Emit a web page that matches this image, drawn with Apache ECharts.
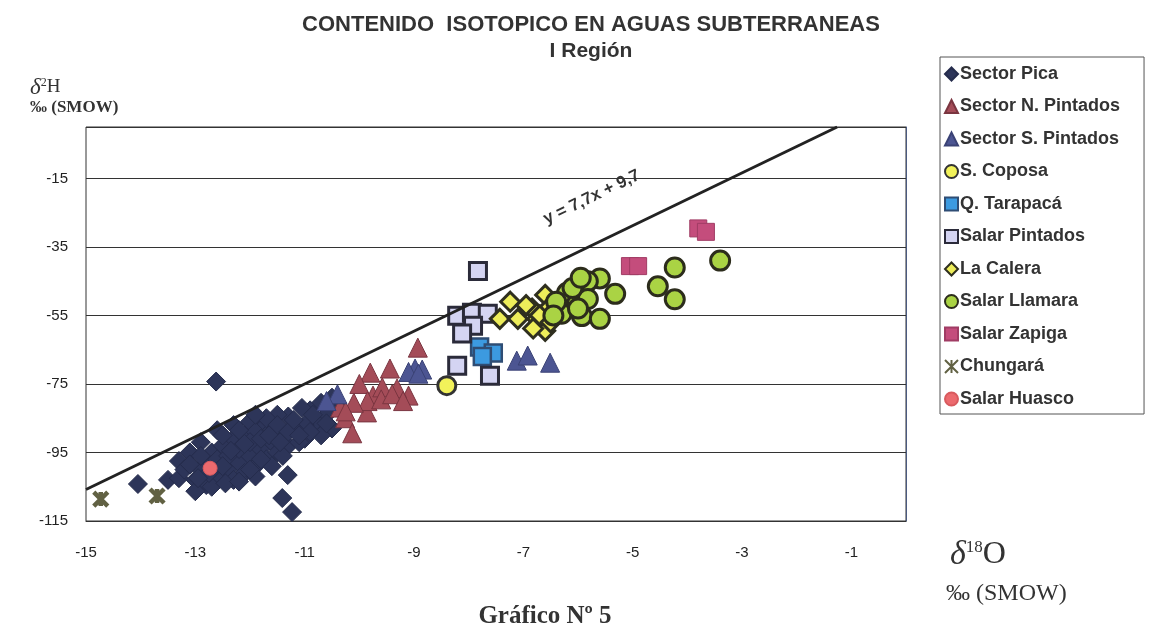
<!DOCTYPE html>
<html>
<head>
<meta charset="utf-8">
<script src="https://cdn.jsdelivr.net/npm/echarts@6/dist/echarts.min.js"></script>
<style>
html,body{margin:0;padding:0;background:#fff;}
#chart{width:1149px;height:630px;}
</style>
</head>
<body>
<div id="chart"></div>
<script>
// valores (d18O, d2H)
const sectorPica = [
  [-12.62,-74.3],[-14.05,-104.2],[-13.5,-103],[-13.3,-102.5],
  [-11.31,-101.6],[-11.41,-108.3],[-11.23,-112.4],
  [-10.5,-79],[-10.7,-80.5],[-10.9,-82.7],[-11.05,-82],[-11.3,-84.5],[-11.5,-84],
  [-10.6,-84],[-10.8,-86],[-11.0,-87],[-11.2,-88],[-10.5,-88],[-10.7,-90],
  [-11.0,-91],[-11.4,-90],[-11.6,-88],[-11.8,-86],
  [-12.6,-88.5],[-12.3,-87],[-12.0,-86],[-11.7,-85],[-12.9,-92],[-13.1,-95],
  [-13.3,-97.5],[-13.2,-100],[-13.0,-103],[-12.8,-104.5],[-13.0,-106.3],[-12.6,-102],
  [-12.4,-100],[-12.2,-98],[-12.0,-96],[-11.8,-94],[-11.6,-92],[-12.7,-95],
  [-12.5,-93],[-12.3,-91],[-12.1,-90],[-11.9,-89],[-12.8,-98],[-12.6,-97],
  [-12.4,-96],[-12.2,-94],[-12.0,-92],[-11.8,-91],[-12.9,-100],[-12.5,-99],
  [-12.1,-101],[-11.9,-99],[-11.7,-97],[-11.5,-95],[-11.3,-93],[-11.1,-92],
  [-12.3,-103],[-12.7,-105],[-11.9,-102],[-11.6,-99],[-11.4,-96],
  [-12.9,-96],[-12.75,-101],[-12.45,-104],[-12.2,-103.5],[-12.0,-100],[-11.8,-97],
  [-12.5,-90],[-12.2,-88.5],[-11.5,-87],[-11.3,-89],[-10.9,-89],[-10.6,-86.5],
  [-11.9,-84],[-11.2,-85.5],[-13.1,-98.5],[-12.95,-102.5],[-12.35,-94.5],[-12.1,-92.5],
  [-11.65,-90],[-11.45,-92],[-11.1,-90],[-10.85,-84],[-10.4,-81.5]
];
const sectorNPintados = [
  [-8.93,-64.4],[-9.44,-70.5],[-9.8,-71.7],[-9.75,-78.4],[-9.1,-78.4],
  [-10.26,-85],[-10.13,-89.4],[-9.86,-83.3],[-9.31,-76.3],[-10.0,-75],
  [-10.35,-81.9],[-9.58,-76],[-9.85,-80],[-9.6,-79.5],[-9.4,-78],
  [-10.1,-80.5],[-10.25,-83],[-9.2,-80]
];
const sectorSPintados = [
  [-8.98,-70.5],[-8.85,-70.8],[-9.1,-71.5],[-8.92,-72],
  [-7.12,-68.2],[-6.92,-66.7],[-6.51,-68.8],[-10.4,-78],[-10.6,-80]
];
const sCoposa = [[-8.4,-75.5]];
const qTarapaca = [[-7.8,-64.2],[-7.55,-66],[-7.75,-67]];
const salarPintados = [
  [-7.83,-42],[-8.21,-55.1],[-7.94,-54.2],[-7.65,-54.5],[-7.92,-58],
  [-8.12,-60.3],[-8.21,-69.7],[-7.61,-72.6]
];
const laCalera = [
  [-7.43,-56],[-7.1,-56],[-6.84,-53],[-6.75,-56],[-6.6,-49],[-6.6,-59.5],
  [-6.82,-58.8],[-6.55,-53],[-7.24,-51],[-6.95,-52],[-6.7,-55],[-6.5,-57]
];
const salarLlamara = [
  [-3.4,-39],[-4.23,-41],[-4.54,-46.5],[-4.23,-50.3],[-5.32,-48.7],[-5.6,-44.2],
  [-5.82,-45],[-6.2,-48.4],[-6.02,-51.6],[-5.82,-50.2],[-5.93,-55.2],[-5.6,-56],
  [-6.3,-54.5],[-6.1,-47],[-6.4,-51],[-5.95,-44],[-6.0,-53],[-6.45,-55]
];
const salarZapiga = [[-5.05,-40.6],[-4.9,-40.6],[-3.8,-29.6],[-3.66,-30.6]];
const chungara = [[-14.73,-108.6],[-13.7,-107.7]];
const salarHuasco = [[-12.73,-99.6]];
// recta y = 7,7x + 9,7 (extremos leidos)
const recta = [[-15,-105.8],[-1.26,0]];
const xTicks = [-15,-13,-11,-9,-7,-5,-3,-1];

const starPath = 'path://M0,0L10,10M10,0L0,10M5,0L5,10';

function serie(name, data, symbol, size, color, border, bw) {
  return {
    name: name, type: 'scatter', data: data, symbol: symbol, symbolSize: size,
    itemStyle: {color: color, borderColor: border || color, borderWidth: bw || 0, opacity: 1}
  };
}

const $chart = echarts.init(document.getElementById('chart'));
const option = {
  animation: false,
  backgroundColor: '#fff',
  textStyle: {fontFamily: 'Liberation Sans, Arial'},
  title: {
    text: 'CONTENIDO  ISOTOPICO EN AGUAS SUBTERRANEAS',
    subtext: 'I Región',
    left: 586, top: 9, textAlign: 'center', itemGap: 5,
    textStyle: {fontSize: 22, fontWeight: 'bold', color: '#333'},
    subtextStyle: {fontSize: 21, fontWeight: 'bold', color: '#333'}
  },
  grid: {left: 86, right: 243, top: 127, bottom: 109, show: true, borderColor: '#333', borderWidth: 1},
  legend: {
    orient: 'vertical', left: 940, top: 57,
    padding: [8, 24, 6, 4],
    borderColor: '#555', borderWidth: 1,
    itemWidth: 13, itemHeight: 13, itemGap: 14.5,
    textStyle: {fontSize: 18, fontWeight: 'bold', color: '#333', lineHeight: 16, padding: [0, 0, 0, -3]}
  },
  xAxis: {
    type: 'value', min: -15, max: 0, interval: 1,
    axisLine: {onZero: false, lineStyle: {color: '#333'}},
    axisTick: {show: false},
    splitLine: {show: false},
    axisLabel: {
      margin: 24, fontSize: 15, color: '#222',
      formatter: v => xTicks.indexOf(v) >= 0 ? String(v) : ''
    }
  },
  yAxis: {
    type: 'value', min: -115, max: 0, interval: 20,
    axisLine: {show: true, lineStyle: {color: '#4a5a80'}},
    axisTick: {show: false},
    splitLine: {lineStyle: {color: '#333', width: 1}},
    axisLabel: {margin: 18, fontSize: 15, color: '#222', showMaxLabel: false}
  },
  series: [
    serie('Sector Pica', sectorPica, 'diamond', 19, '#2D3559', '#252c4c', 1),
    serie('Sector N. Pintados', sectorNPintados, 'triangle', 19, '#A44C58', '#7a3540', 1),
    serie('Sector S. Pintados', sectorSPintados, 'triangle', 19, '#4C5592', '#3a4275', 1),
    serie('S. Coposa', sCoposa, 'circle', 18, '#F2F25A', '#333', 3),
    serie('Q. Tarapacá', qTarapaca, 'rect', 17, '#3C9AE0', '#2f4d74', 2.5),
    serie('Salar Pintados', salarPintados, 'rect', 17, '#D4D4F2', '#2b2b3a', 3),
    serie('La Calera', laCalera, 'diamond', 19, '#EDED5A', '#2f2f1f', 3),
    serie('Salar Llamara', salarLlamara, 'circle', 19, '#AAD344', '#2c2c1c', 3),
    serie('Salar Zapiga', salarZapiga, 'rect', 17, '#C44D7C', '#a03c64', 1),
    {
      name: 'Chungará', type: 'scatter', data: chungara, symbol: starPath, symbolSize: 14,
      itemStyle: {color: '#3a3a14', borderColor: '#3a3a14', borderWidth: 4.5}
    },
    serie('Salar Huasco', salarHuasco, 'circle', 14, '#EC6A6E', '#d85a5e', 1),
    {
      name: 'recta', type: 'line', data: recta, symbol: 'none', silent: true,
      lineStyle: {color: '#222', width: 3}, z: 5
    }
  ]
};
option.legend.data = option.series.filter(s => s.name !== 'recta').map(s => s.name);
$chart.setOption(option);

// etiquetas de texto libres
const p = $chart.convertToPixel({gridIndex: 0}, [-5.75, -20.5]);
$chart.setOption({
  graphic: [
    {
      type: 'text', x: p[0], y: p[1], rotation: Math.atan(7.7 * 3.44 / 54.67),
      style: {text: 'y = 7,7x + 9,7', font: 'bold 17px Liberation Sans', fill: '#333', align: 'center', verticalAlign: 'middle'}
    },
    {
      type: 'text', left: 30, top: 76,
      style: {
        text: '{d|δ}{s|2}{h|H}\n{p|‰ (SMOW)}',
        rich: {
          d: {fontFamily: 'Liberation Serif', fontStyle: 'italic', fontSize: 23, fill: '#333'},
          s: {fontFamily: 'Liberation Serif', fontSize: 12, fill: '#333', padding: [0, 0, 10, 0]},
          h: {fontFamily: 'Liberation Serif', fontSize: 19, fill: '#333'},
          p: {fontFamily: 'Liberation Serif', fontSize: 17, fontWeight: 'bold', fill: '#333', lineHeight: 18}
        }
      }
    },
    {
      type: 'text', left: 950, top: 538,
      style: {
        text: '{d|δ}{s|18}{o|O}',
        rich: {
          d: {fontFamily: 'Liberation Serif', fontStyle: 'italic', fontSize: 34, fill: '#333'},
          s: {fontFamily: 'Liberation Serif', fontSize: 17, fill: '#333', padding: [0, 0, 14, 0]},
          o: {fontFamily: 'Liberation Serif', fontSize: 32, fill: '#333'}
        }
      }
    },
    {
      type: 'text', left: 946, top: 582,
      style: {text: '‰ (SMOW)', font: '24px Liberation Serif', fill: '#333'}
    },
    {
      type: 'text', x: 545, y: 617,
      style: {text: 'Gráfico Nº 5', font: 'bold 25px Liberation Serif', fill: '#333', align: 'center', verticalAlign: 'middle'}
    }
  ]
});
</script>
</body>
</html>
